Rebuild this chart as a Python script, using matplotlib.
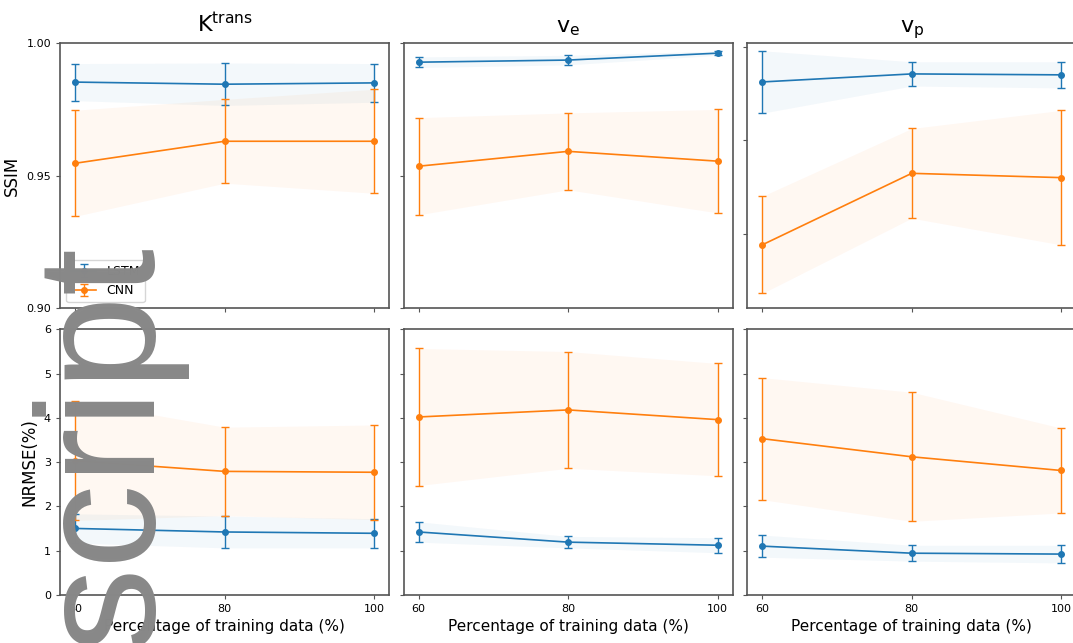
import numpy as np
import matplotlib
matplotlib.use("Agg")
import matplotlib.pyplot as plt

plt.rcParams["mathtext.default"] = "regular"

# x values and panel titles
train_pct = [60, 80, 100]
params = ["K$^{trans}$", "v$_e$", "v$_p$"]

# SSIM (mean, std) for each parameter
lstm_ssim = [[0.9853, 0.9845, 0.9850], [0.9928, 0.9936, 0.9962], [0.9812, 0.9855, 0.9850]]
lstm_ssim_err = [[0.0070, 0.0080, 0.0073], [0.0020, 0.0018, 0.0008], [0.0167, 0.0065, 0.0070]]
cnn_ssim = [[0.9547, 0.9630, 0.9630], [0.9536, 0.9592, 0.9555], [0.8940, 0.9323, 0.9300]]
cnn_ssim_err = [[0.0200, 0.0158, 0.0196], [0.0183, 0.0145, 0.0195], [0.0260, 0.0240, 0.0360]]

# NRMSE in % (mean, std)
lstm_nrmse = [[1.50, 1.42, 1.39], [1.42, 1.19, 1.12], [1.10, 0.94, 0.92]]
lstm_nrmse_err = [[0.33, 0.36, 0.33], [0.23, 0.13, 0.17], [0.25, 0.18, 0.20]]
cnn_nrmse = [[3.03, 2.79, 2.77], [4.02, 4.18, 3.96], [3.53, 3.12, 2.81]]
cnn_nrmse_err = [[1.35, 1.00, 1.07], [1.55, 1.32, 1.27], [1.38, 1.46, 0.96]]

LSTM_COLOR = "#1f77b4"
CNN_COLOR = "#ff7f0e"


def draw(ax, x, mean, err, color, label):
    mean = np.array(mean)
    err = np.array(err)
    ax.fill_between(x, mean - err, mean + err, color=color, alpha=0.05, lw=0)
    ax.errorbar(x, mean, yerr=err, color=color, ecolor=color, marker="o", ms=4,
                lw=1.2, elinewidth=1, capsize=3, label=label)


fig, axes = plt.subplots(2, 3, figsize=(10.73, 6.43), dpi=100)
fig.subplots_adjust(left=0.056, right=1.003, top=0.933, bottom=0.075,
                    wspace=0.044, hspace=0.079)

for i in range(3):
    top = axes[0, i]
    bot = axes[1, i]
    draw(top, train_pct, lstm_ssim[i], lstm_ssim_err[i], LSTM_COLOR, "LSTM")
    draw(top, train_pct, cnn_ssim[i], cnn_ssim_err[i], CNN_COLOR, "CNN")
    draw(bot, train_pct, lstm_nrmse[i], lstm_nrmse_err[i], LSTM_COLOR, "LSTM")
    draw(bot, train_pct, cnn_nrmse[i], cnn_nrmse_err[i], CNN_COLOR, "CNN")

    top.set_title(params[i], fontsize=16, pad=8)
    if i < 2:
        top.set_ylim(0.90, 1.00)
    else:
        top.set_ylim(0.86, 1.002)
    top.set_yticks([0.90, 0.95, 1.00])
    bot.set_ylim(0, 6)
    bot.set_yticks(range(7))

    for ax in (top, bot):
        ax.set_xticks(train_pct)
        ax.tick_params(labelsize=8, length=3, color="#555555")
        for s in ax.spines.values():
            s.set_color("#555555")
            s.set_linewidth(1.2)
    top.set_xticklabels([])
    bot.set_xlabel("Percentage of training data (%)", fontsize=11)
    if i > 0:
        top.set_yticklabels([])
        bot.set_yticklabels([])

axes[0, 0].set_yticklabels(["0.90", "0.95", "1.00"])
axes[0, 0].set_ylabel("SSIM", fontsize=12)
axes[1, 0].set_ylabel("NRMSE(%)", fontsize=12)
axes[0, 0].legend(loc="lower left", fontsize=9)

# grey watermark over the left side
fig.text(150 / 1073, 1 - 648 / 643, "script", rotation=90, rotation_mode="anchor",
         ha="left", va="baseline", fontsize=122, color="#888888",
         family="Liberation Sans")

fig.savefig("out.png", dpi=100)
